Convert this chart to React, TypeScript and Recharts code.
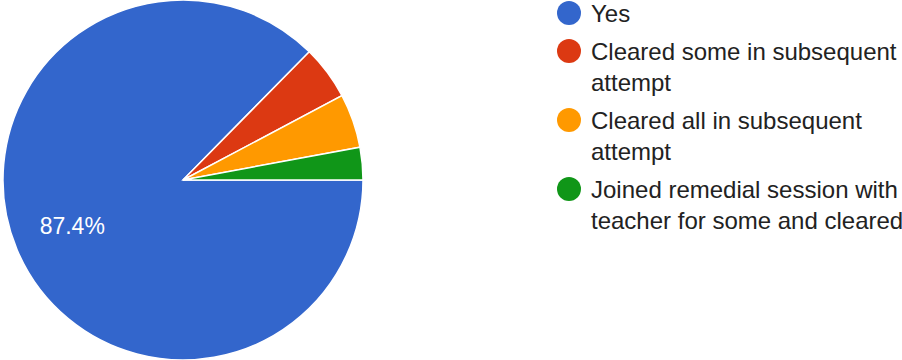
import React from 'react';
import { PieChart, Pie, Cell, Legend } from 'recharts';

const ANSWERS = [
  'Yes',
  'Cleared some in subsequent attempt',
  'Cleared all in subsequent attempt',
  'Joined remedial session with teacher for some and cleared',
];
const COUNTS = [90, 5, 5, 3];
const COLORS = ['#3366cc', '#dc3912', '#ff9900', '#109618'];

const data = ANSWERS.map((name, i) => ({ name, value: COUNTS[i] }));
const total = COUNTS.reduce((s, v) => s + v, 0);

const FONT = 'Arial, "Liberation Sans", sans-serif';

const RADIAN = Math.PI / 180;

const renderLabel = (props: any) => {
  const { cx, cy, midAngle, outerRadius, value } = props;
  const pct = (value / total) * 100;
  // only the big slice gets a label
  if (pct < 10) return null;
  const r = outerRadius * 0.667;
  const x = cx + r * Math.cos(-midAngle * RADIAN);
  const y = cy + r * Math.sin(-midAngle * RADIAN);
  return (
    <text
      x={x}
      y={y}
      fill="#ffffff"
      textAnchor="middle"
      dominantBaseline="central"
      fontSize={23}
      fontFamily={FONT}
    >
      {pct.toFixed(1)}%
    </text>
  );
};

const LegendContent = () => (
  <div style={{ fontFamily: FONT, fontSize: 24, color: '#222222' }}>
    {ANSWERS.map((name, i) => (
      <div key={name} style={{ display: 'flex', alignItems: 'flex-start', marginBottom: 7 }}>
        <div
          style={{
            width: 24,
            height: 24,
            borderRadius: 12,
            background: COLORS[i],
            marginTop: 3,
            marginRight: 10,
            flexShrink: 0,
          }}
        />
        <div style={{ lineHeight: '31px', width: 325, flexShrink: 0 }}>{name}</div>
      </div>
    ))}
  </div>
);

export default function App() {
  return (
    <div style={{ position: 'absolute', left: 0, top: 0, width: 902, height: 360, background: '#fff', overflow: 'hidden' }}>
      <PieChart width={902} height={360} margin={{ top: 0, right: 0, bottom: 0, left: 0 }}>
        <Pie
          data={data}
          dataKey="value"
          nameKey="name"
          cx={183}
          cy={180}
          outerRadius={180}
          startAngle={0}
          endAngle={-360}
          stroke="#ffffff"
          strokeWidth={1.5}
          label={renderLabel}
          labelLine={false}
          isAnimationActive={false}
        >
          {data.map((entry, index) => (
            <Cell key={`cell-${index}`} fill={COLORS[index % COLORS.length]} />
          ))}
        </Pie>
        <Legend
          layout="vertical"
          verticalAlign="top"
          align="right"
          content={<LegendContent />}
          wrapperStyle={{ left: 557, top: -2, width: 360 }}
        />
      </PieChart>
    </div>
  );
}
